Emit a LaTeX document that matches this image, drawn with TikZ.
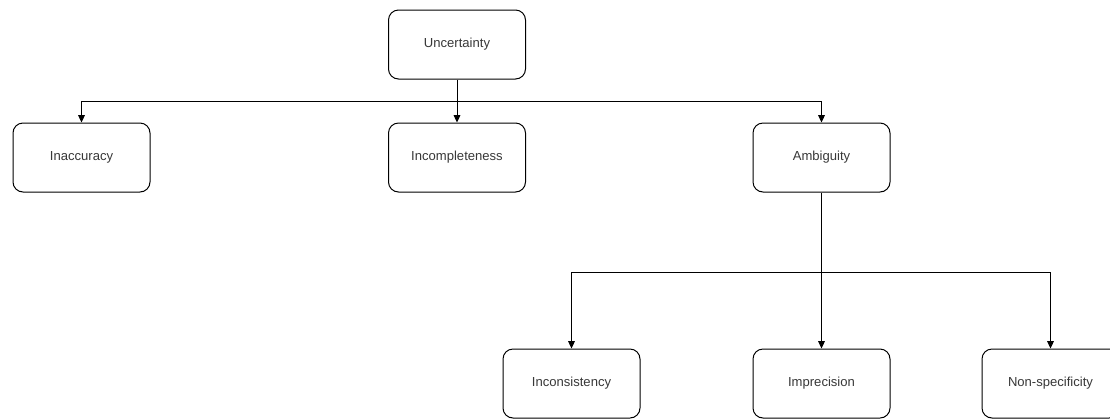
\documentclass[tikz,border=0pt]{standalone}
\usepackage{fontspec}
\setmainfont{Liberation Sans}
\usetikzlibrary{arrows.meta}
\definecolor{txt}{HTML}{383838}
\tikzset{
  box/.style={draw=black, line width=0.75pt, rounded corners=7.5pt, minimum width=102.75pt, minimum height=51.75pt, inner sep=0pt, font=\fontsize{9.8pt}{12pt}\selectfont, text=txt},
  arr/.style={line width=0.75pt, -{Triangle[length=5.5pt,width=5pt]}},
}
\begin{document}
\begin{tikzpicture}[x=0.75pt,y=-0.75pt]
\clip (0,0) rectangle (1110,419);
\useasboundingbox (0,0) rectangle (1110,419);
\fill[white] (0,0) rectangle (1110,419);
\node[box] (unc) at (457,44.5) {Uncertainty};
\node[box] (ina) at (81.5,157.5) {Inaccuracy};
\node[box] (inc) at (457,157.5) {Incompleteness};
\node[box] (amb) at (821.5,157.5) {Ambiguity};
\node[box] (ics) at (571.5,383.5) {Inconsistency};
\node[box] (imp) at (821.5,383.5) {Imprecision};
\node[box] (non) at (1050.5,383.5) {Non-specificity};
\coordinate (j1) at (457,101);
\coordinate (j2) at (821.5,272);
\draw[arr] (unc.south) -- (inc.north);
\draw[arr] (j1) -| (ina.north);
\draw[arr] (j1) -| (amb.north);
\draw[arr] (amb.south) -- (imp.north);
\draw[arr] (j2) -| (ics.north);
\draw[arr] (j2) -| (non.north);
\end{tikzpicture}
\end{document}
